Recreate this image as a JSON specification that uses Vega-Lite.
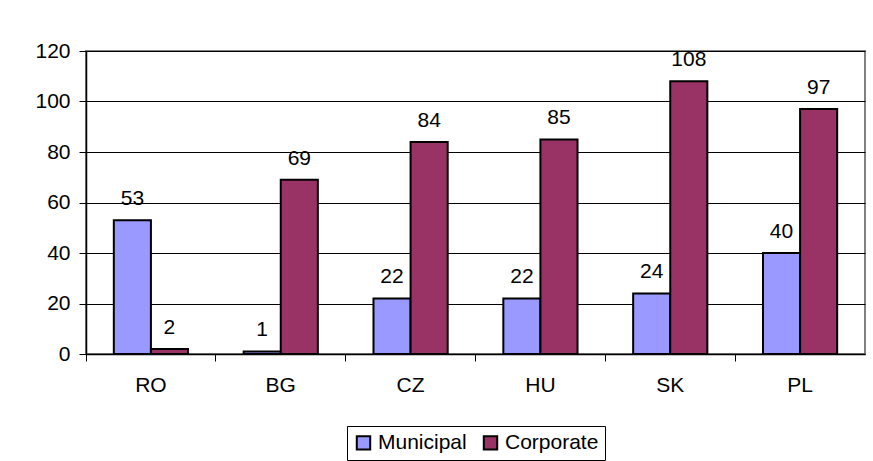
{
  "$schema": "https://vega.github.io/schema/vega-lite/v6.json",
  "width": 779,
  "height": 303,
  "autosize": {"type": "none"},
  "padding": {"left": 86, "top": 51, "right": 8, "bottom": 107},
  "background": "white",
  "config": {
    "font": "Liberation Sans",
    "view": {"stroke": "#808080", "strokeWidth": 2}
  },
  "data": {
    "values": [
      {"country": "RO", "type": "Municipal", "value": 53},
      {"country": "RO", "type": "Corporate", "value": 2},
      {"country": "BG", "type": "Municipal", "value": 1},
      {"country": "BG", "type": "Corporate", "value": 69},
      {"country": "CZ", "type": "Municipal", "value": 22},
      {"country": "CZ", "type": "Corporate", "value": 84},
      {"country": "HU", "type": "Municipal", "value": 22},
      {"country": "HU", "type": "Corporate", "value": 85},
      {"country": "SK", "type": "Municipal", "value": 24},
      {"country": "SK", "type": "Corporate", "value": 108},
      {"country": "PL", "type": "Municipal", "value": 40},
      {"country": "PL", "type": "Corporate", "value": 97}
    ]
  },
  "encoding": {
    "x": {
      "field": "country",
      "type": "nominal",
      "sort": ["RO", "BG", "CZ", "HU", "SK", "PL"],
      "scale": {"paddingInner": 0, "paddingOuter": 0},
      "axis": {
        "title": null,
        "labelAngle": 0,
        "bandPosition": 0,
        "labelFontSize": 21,
        "labelColor": "black",
        "domainColor": "black",
        "domainWidth": 1.5,
        "tickColor": "black",
        "tickSize": 7,
        "labelPadding": 13,
        "grid": false
      }
    },
    "xOffset": {
      "field": "type",
      "type": "nominal",
      "sort": ["Municipal", "Corporate"],
      "scale": {"paddingInner": 0, "paddingOuter": 0.75}
    },
    "y": {
      "field": "value",
      "type": "quantitative",
      "scale": {"domain": [0, 120], "nice": false},
      "axis": {
        "title": null,
        "values": [0, 20, 40, 60, 80, 100, 120],
        "labelFontSize": 21,
        "labelColor": "black",
        "domainColor": "black",
        "domainWidth": 1.5,
        "tickColor": "black",
        "tickSize": 7,
        "labelPadding": 9,
        "grid": true,
        "gridColor": "black",
        "gridWidth": 1
      }
    }
  },
  "layer": [
    {
      "mark": {"type": "bar", "stroke": "black", "strokeWidth": 2},
      "encoding": {
        "color": {
          "field": "type",
          "type": "nominal",
          "sort": ["Municipal", "Corporate"],
          "scale": {"domain": ["Municipal", "Corporate"], "range": ["#9999FF", "#993366"]},
          "legend": {
            "title": null,
            "orient": "none",
            "direction": "horizontal",
            "legendX": 261,
            "legendY": 375,
            "strokeColor": "black",
            "fillColor": "white",
            "padding": 6,
            "symbolType": "square",
            "symbolSize": 180,
            "symbolStrokeColor": "black",
            "symbolStrokeWidth": 2,
            "symbolOpacity": 1,
            "labelFontSize": 21,
            "labelColor": "black",
            "labelOffset": 4,
            "columnPadding": 12
          }
        }
      }
    },
    {
      "mark": {"type": "text", "baseline": "alphabetic", "dy": -15, "fontSize": 21, "color": "black"},
      "encoding": {"text": {"field": "value", "type": "quantitative"}}
    }
  ]
}
